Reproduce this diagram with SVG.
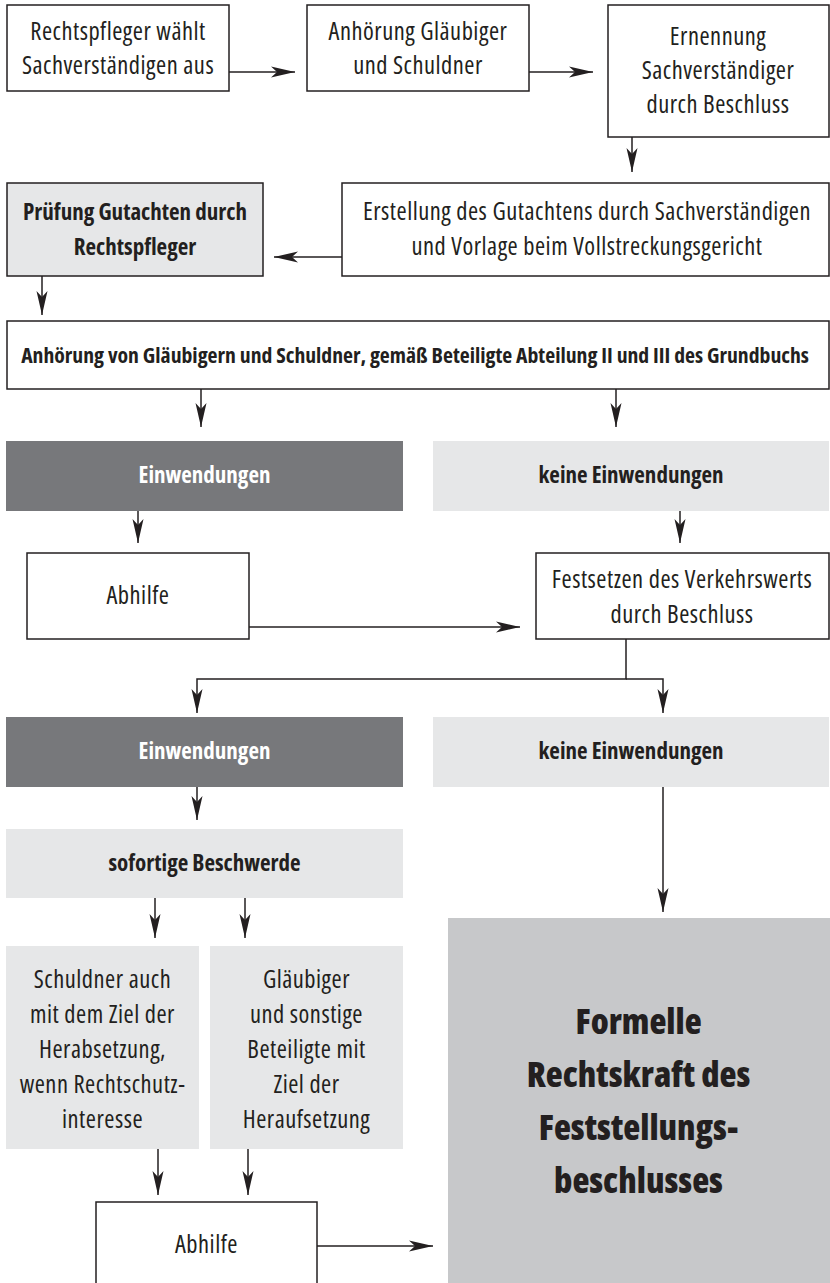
<svg xmlns="http://www.w3.org/2000/svg" width="830" height="1283" viewBox="0 0 830 1283">
<defs>
<marker id="ah" viewBox="0 0 24 12" refX="24" refY="6" markerWidth="24" markerHeight="12" markerUnits="userSpaceOnUse" orient="auto">
<path d="M0,0.5 L24,6 L0,11.5 L6,6 Z" fill="#231f20"/>
</marker>
<style>
.t{font-family:"Open Sans","Liberation Sans",sans-serif;font-stretch:75%;font-size:24.5px;letter-spacing:0.5px;fill:#231f20;text-anchor:middle}
.b{font-weight:700;font-size:23px;letter-spacing:0}
.s{font-size:21.7px}
.w{fill:#ffffff}
.big{font-size:35px;font-weight:800;letter-spacing:0}
.bx{fill:#ffffff;stroke:#231f20;stroke-width:1.5}
.lg{fill:#e6e7e8}
.lgs{fill:#e6e7e8;stroke:#231f20;stroke-width:1.5}
.dk{fill:#77787b}
.md{fill:#c7c8ca}
.c{fill:none;stroke:#231f20;stroke-width:1.5}
</style>
</defs>
<rect width="830" height="1283" fill="#ffffff"/>
<g id="connectors">
<path class="c" d="M229,72 H295" marker-end="url(#ah)"/>
<path class="c" d="M529,72 H593" marker-end="url(#ah)"/>
<path class="c" d="M632,137 V172" marker-end="url(#ah)"/>
<path class="c" d="M342,257 H274" marker-end="url(#ah)"/>
<path class="c" d="M42,276 V315" marker-end="url(#ah)"/>
<path class="c" d="M201,389 V427" marker-end="url(#ah)"/>
<path class="c" d="M616,389 V427" marker-end="url(#ah)"/>
<path class="c" d="M138,511 V543" marker-end="url(#ah)"/>
<path class="c" d="M680,511 V543" marker-end="url(#ah)"/>
<path class="c" d="M249,627 H520" marker-end="url(#ah)"/>
<path class="c" d="M626,639 V679 H197 V713" marker-end="url(#ah)"/>
<path class="c" d="M626,679 H663 V713" marker-end="url(#ah)"/>
<path class="c" d="M197,787 V820" marker-end="url(#ah)"/>
<path class="c" d="M663,787 V912" marker-end="url(#ah)"/>
<path class="c" d="M155,898 V938" marker-end="url(#ah)"/>
<path class="c" d="M245,898 V938" marker-end="url(#ah)"/>
<path class="c" d="M158,1149 V1195" marker-end="url(#ah)"/>
<path class="c" d="M248,1149 V1195" marker-end="url(#ah)"/>
<path class="c" d="M317,1246 H433" marker-end="url(#ah)"/>
</g>
<g id="n1"><rect class="bx" x="7" y="5" width="222" height="86"/>
<text class="t" x="118" y="40">Rechtspfleger wählt</text><text class="t" x="118" y="74">Sachverständigen aus</text></g>
<g id="n2"><rect class="bx" x="307" y="5" width="222" height="86"/>
<text class="t" x="418" y="40">Anhörung Gläubiger</text><text class="t" x="418" y="74">und Schuldner</text></g>
<g id="n3"><rect class="bx" x="608" y="5" width="221" height="132"/>
<text class="t" x="718" y="45">Ernennung</text><text class="t" x="718" y="79">Sachverständiger</text><text class="t" x="718" y="113">durch Beschluss</text></g>
<g id="n4"><rect class="bx" x="342" y="183" width="487" height="93"/>
<text class="t" x="587" y="220">Erstellung des Gutachtens durch Sachverständigen</text><text class="t" x="587" y="255">und Vorlage beim Vollstreckungsgericht</text></g>
<g id="n5"><rect class="lgs" x="7" y="183" width="256" height="93"/>
<text class="t b" x="135" y="220">Prüfung Gutachten durch</text><text class="t b" x="135" y="255">Rechtspfleger</text></g>
<g id="n6"><rect class="bx" x="7" y="321" width="822" height="68"/>
<text class="t b s" x="415" y="363">Anhörung von Gläubigern und Schuldner, gemäß Beteiligte Abteilung II und III des Grundbuchs</text></g>
<g id="n7"><rect class="dk" x="6" y="441" width="397" height="70"/>
<text class="t b w" x="204.5" y="483">Einwendungen</text></g>
<g id="n8"><rect class="lg" x="433" y="441" width="396" height="70"/>
<text class="t b" x="631" y="483">keine Einwendungen</text></g>
<g id="n9"><rect class="bx" x="27" y="553" width="222" height="86"/>
<text class="t" x="138" y="604">Abhilfe</text></g>
<g id="n10"><rect class="bx" x="536" y="553" width="293" height="86"/>
<text class="t" x="682" y="588">Festsetzen des Verkehrswerts</text><text class="t" x="682" y="623">durch Beschluss</text></g>
<g id="n11"><rect class="dk" x="6" y="717" width="397" height="70"/>
<text class="t b w" x="204.5" y="759">Einwendungen</text></g>
<g id="n12"><rect class="lg" x="433" y="717" width="396" height="70"/>
<text class="t b" x="631" y="759">keine Einwendungen</text></g>
<g id="n13"><rect class="lg" x="6" y="829" width="397" height="69"/>
<text class="t b" x="204.5" y="871">sofortige Beschwerde</text></g>
<g id="n14"><rect class="lg" x="6" y="946" width="193" height="203"/>
<text class="t" x="102.5" y="988">Schuldner auch</text><text class="t" x="102.5" y="1023">mit dem Ziel der</text><text class="t" x="102.5" y="1058">Herabsetzung,</text><text class="t" x="102.5" y="1093">wenn Rechtschutz-</text><text class="t" x="102.5" y="1128">interesse</text></g>
<g id="n15"><rect class="lg" x="210" y="946" width="193" height="203"/>
<text class="t" x="306.5" y="988">Gläubiger</text><text class="t" x="306.5" y="1023">und sonstige</text><text class="t" x="306.5" y="1058">Beteiligte mit</text><text class="t" x="306.5" y="1093">Ziel der</text><text class="t" x="306.5" y="1128">Heraufsetzung</text></g>
<g id="n16"><rect class="bx" x="96" y="1202" width="221" height="100"/>
<text class="t" x="206.5" y="1253">Abhilfe</text></g>
<g id="n17"><rect class="md" x="448" y="918" width="382" height="370"/>
<text class="t big" x="638.5" y="1034">Formelle</text><text class="t big" x="638.5" y="1087">Rechtskraft des</text><text class="t big" x="638.5" y="1140">Feststellungs-</text><text class="t big" x="638.5" y="1193">beschlusses</text></g>
</svg>
